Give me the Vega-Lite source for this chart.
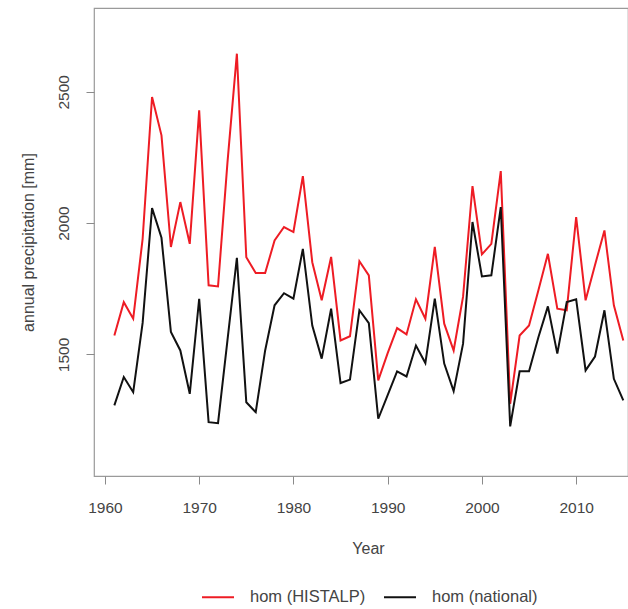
{
  "$schema": "https://vega.github.io/schema/vega-lite/v6.json",
  "autosize": {"type": "none"},
  "padding": {"left": 94, "top": 8, "right": 0, "bottom": 133},
  "width": 534,
  "height": 468,
  "background": "white",
  "config": {
    "font": "Liberation Sans",
    "view": {"stroke": "#9a9a9a", "strokeWidth": 1.2},
    "axis": {"grid": false, "domain": false, "tickColor": "#8a8a8a", "tickSize": 8, "labelColor": "#444", "titleColor": "#444", "labelFontSize": 15.5, "titleFontSize": 16, "titleFontWeight": "normal", "labelPadding": 23}
  },
  "data": {"values": [
    {"year":1961,"series":"hom (HISTALP)","value":1572},
    {"year":1962,"series":"hom (HISTALP)","value":1699},
    {"year":1963,"series":"hom (HISTALP)","value":1636},
    {"year":1964,"series":"hom (HISTALP)","value":1940},
    {"year":1965,"series":"hom (HISTALP)","value":2480},
    {"year":1966,"series":"hom (HISTALP)","value":2334},
    {"year":1967,"series":"hom (HISTALP)","value":1909},
    {"year":1968,"series":"hom (HISTALP)","value":2080},
    {"year":1969,"series":"hom (HISTALP)","value":1921},
    {"year":1970,"series":"hom (HISTALP)","value":2429},
    {"year":1971,"series":"hom (HISTALP)","value":1763},
    {"year":1972,"series":"hom (HISTALP)","value":1759},
    {"year":1973,"series":"hom (HISTALP)","value":2230},
    {"year":1974,"series":"hom (HISTALP)","value":2645},
    {"year":1975,"series":"hom (HISTALP)","value":1870},
    {"year":1976,"series":"hom (HISTALP)","value":1810},
    {"year":1977,"series":"hom (HISTALP)","value":1810},
    {"year":1978,"series":"hom (HISTALP)","value":1934},
    {"year":1979,"series":"hom (HISTALP)","value":1985},
    {"year":1980,"series":"hom (HISTALP)","value":1966},
    {"year":1981,"series":"hom (HISTALP)","value":2179},
    {"year":1982,"series":"hom (HISTALP)","value":1851},
    {"year":1983,"series":"hom (HISTALP)","value":1706},
    {"year":1984,"series":"hom (HISTALP)","value":1871},
    {"year":1985,"series":"hom (HISTALP)","value":1553},
    {"year":1986,"series":"hom (HISTALP)","value":1569},
    {"year":1987,"series":"hom (HISTALP)","value":1855},
    {"year":1988,"series":"hom (HISTALP)","value":1801},
    {"year":1989,"series":"hom (HISTALP)","value":1401},
    {"year":1990,"series":"hom (HISTALP)","value":1505},
    {"year":1991,"series":"hom (HISTALP)","value":1600},
    {"year":1992,"series":"hom (HISTALP)","value":1576},
    {"year":1993,"series":"hom (HISTALP)","value":1710},
    {"year":1994,"series":"hom (HISTALP)","value":1636},
    {"year":1995,"series":"hom (HISTALP)","value":1909},
    {"year":1996,"series":"hom (HISTALP)","value":1617},
    {"year":1997,"series":"hom (HISTALP)","value":1515},
    {"year":1998,"series":"hom (HISTALP)","value":1720},
    {"year":1999,"series":"hom (HISTALP)","value":2141},
    {"year":2000,"series":"hom (HISTALP)","value":1881},
    {"year":2001,"series":"hom (HISTALP)","value":1921},
    {"year":2002,"series":"hom (HISTALP)","value":2198},
    {"year":2003,"series":"hom (HISTALP)","value":1312},
    {"year":2004,"series":"hom (HISTALP)","value":1572},
    {"year":2005,"series":"hom (HISTALP)","value":1610},
    {"year":2006,"series":"hom (HISTALP)","value":1745},
    {"year":2007,"series":"hom (HISTALP)","value":1883},
    {"year":2008,"series":"hom (HISTALP)","value":1674},
    {"year":2009,"series":"hom (HISTALP)","value":1668},
    {"year":2010,"series":"hom (HISTALP)","value":2023},
    {"year":2011,"series":"hom (HISTALP)","value":1706},
    {"year":2012,"series":"hom (HISTALP)","value":1840},
    {"year":2013,"series":"hom (HISTALP)","value":1972},
    {"year":2014,"series":"hom (HISTALP)","value":1687},
    {"year":2015,"series":"hom (HISTALP)","value":1553},
    {"year":1961,"series":"hom (national)","value":1306},
    {"year":1962,"series":"hom (national)","value":1414},
    {"year":1963,"series":"hom (national)","value":1356},
    {"year":1964,"series":"hom (national)","value":1620},
    {"year":1965,"series":"hom (national)","value":2057},
    {"year":1966,"series":"hom (national)","value":1944},
    {"year":1967,"series":"hom (national)","value":1585},
    {"year":1968,"series":"hom (national)","value":1515},
    {"year":1969,"series":"hom (national)","value":1350},
    {"year":1970,"series":"hom (national)","value":1712},
    {"year":1971,"series":"hom (national)","value":1242},
    {"year":1972,"series":"hom (national)","value":1238},
    {"year":1973,"series":"hom (national)","value":1553},
    {"year":1974,"series":"hom (national)","value":1868},
    {"year":1975,"series":"hom (national)","value":1318},
    {"year":1976,"series":"hom (national)","value":1280},
    {"year":1977,"series":"hom (national)","value":1515},
    {"year":1978,"series":"hom (national)","value":1687},
    {"year":1979,"series":"hom (national)","value":1733},
    {"year":1980,"series":"hom (national)","value":1712},
    {"year":1981,"series":"hom (national)","value":1902},
    {"year":1982,"series":"hom (national)","value":1610},
    {"year":1983,"series":"hom (national)","value":1484},
    {"year":1984,"series":"hom (national)","value":1674},
    {"year":1985,"series":"hom (national)","value":1391},
    {"year":1986,"series":"hom (national)","value":1404},
    {"year":1987,"series":"hom (national)","value":1668},
    {"year":1988,"series":"hom (national)","value":1619},
    {"year":1989,"series":"hom (national)","value":1255},
    {"year":1990,"series":"hom (national)","value":1345},
    {"year":1991,"series":"hom (national)","value":1435},
    {"year":1992,"series":"hom (national)","value":1416},
    {"year":1993,"series":"hom (national)","value":1534},
    {"year":1994,"series":"hom (national)","value":1467},
    {"year":1995,"series":"hom (national)","value":1712},
    {"year":1996,"series":"hom (national)","value":1465},
    {"year":1997,"series":"hom (national)","value":1360},
    {"year":1998,"series":"hom (national)","value":1541},
    {"year":1999,"series":"hom (national)","value":2004},
    {"year":2000,"series":"hom (national)","value":1797},
    {"year":2001,"series":"hom (national)","value":1801},
    {"year":2002,"series":"hom (national)","value":2061},
    {"year":2003,"series":"hom (national)","value":1226},
    {"year":2004,"series":"hom (national)","value":1436},
    {"year":2005,"series":"hom (national)","value":1436},
    {"year":2006,"series":"hom (national)","value":1566},
    {"year":2007,"series":"hom (national)","value":1683},
    {"year":2008,"series":"hom (national)","value":1503},
    {"year":2009,"series":"hom (national)","value":1699},
    {"year":2010,"series":"hom (national)","value":1710},
    {"year":2011,"series":"hom (national)","value":1439},
    {"year":2012,"series":"hom (national)","value":1492},
    {"year":2013,"series":"hom (national)","value":1668},
    {"year":2014,"series":"hom (national)","value":1407},
    {"year":2015,"series":"hom (national)","value":1325}
  ]},
  "mark": {"type": "line", "strokeWidth": 2, "clip": true},
  "encoding": {
    "x": {
      "field": "year", "type": "quantitative",
      "scale": {"domain": [1958.84, 2015.5], "nice": false, "zero": false},
      "axis": {"values": [1960, 1970, 1980, 1990, 2000, 2010], "format": "d", "title": "Year", "labelBaseline": "middle", "labelFlush": false, "titleX": 274, "titleY": 72, "titleAlign": "center", "titleBaseline": "middle"}
    },
    "y": {
      "field": "value", "type": "quantitative",
      "scale": {"domain": [1037, 2819], "nice": false, "zero": false},
      "axis": {"values": [1500, 2000, 2500], "format": "d", "title": "annual precipitation [mm]", "labelAngle": -90, "labelAlign": "center", "labelBaseline": "middle", "titleX": -66, "titleY": 234, "titleAngle": -90, "titleAlign": "center", "titleBaseline": "middle"}
    },
    "color": {
      "field": "series", "type": "nominal",
      "scale": {"domain": ["hom (HISTALP)", "hom (national)"], "range": ["#ee1c24", "#111111"]},
      "legend": {"title": null, "orient": "none", "direction": "horizontal", "legendX": 107, "legendY": 572, "symbolType": "stroke", "symbolSize": 1024, "symbolStrokeWidth": 2, "labelFontSize": 16.5, "labelColor": "#444", "labelOffset": 15, "columnPadding": 14, "padding": 0}
    }
  }
}
